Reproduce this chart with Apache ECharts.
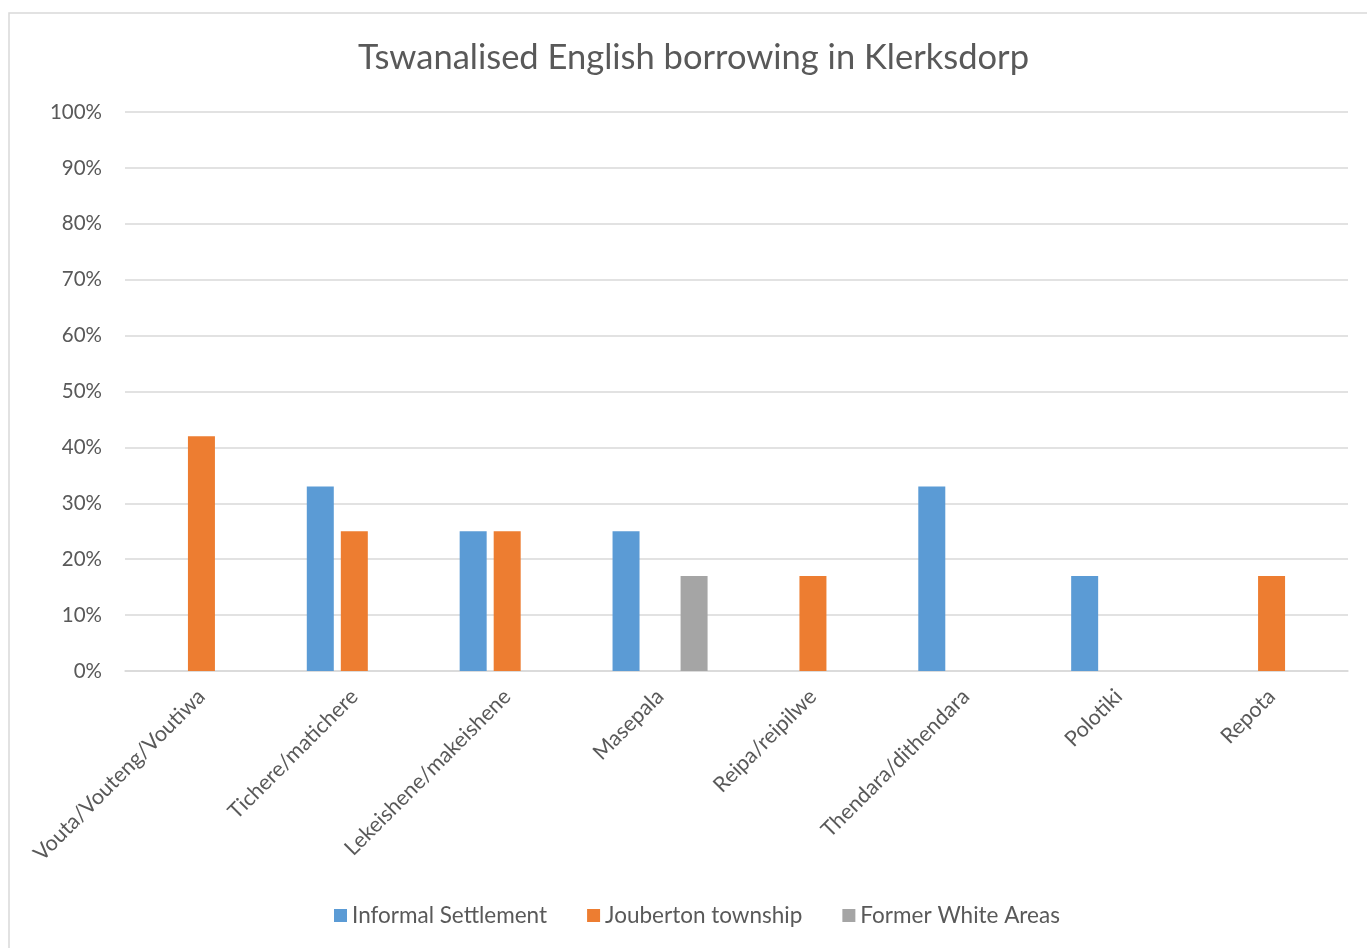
<!DOCTYPE html>
<html>
<head>
<meta charset="utf-8">
<script src="https://cdn.jsdelivr.net/npm/echarts@6/dist/echarts.min.js"></script>
<style>
  html, body { margin: 0; padding: 0; background: #fff; }
  #chart-box { width: 1367px; height: 948px; }
</style>
</head>
<body>
<div id="chart-box"></div>
<script>
// categories and values (percent)
const categories = ['Vouta/Vouteng/Voutiwa', 'Tichere/matichere', 'Lekeishene/makeishene', 'Masepala',
  'Reipa/reipilwe', 'Thendara/dithendara', 'Polotiki', 'Repota']
const informal = [0, 33, 25, 25, 0, 33, 17, 0]
const jouberton = [42, 25, 25, 0, 17, 0, 0, 17]
const formerWhite = [0, 0, 0, 17, 0, 0, 0, 0]
const seriesNames = ['Informal Settlement', 'Jouberton township', 'Former White Areas']
const colors = ['#5B9BD5', '#ED7D31', '#A5A5A5']

const font = 'Lato, "Open Sans", sans-serif'
const textColor = '#595959'

// zero values are drawn as no bar at all
const clean = (arr) => arr.map(v => (v === 0 ? '-' : v))

const options = {
  animation: false,
  color: colors,
  textStyle: { fontFamily: font },
  title: {
    text: 'Tswanalised English borrowing in Klerksdorp',
    left: 353,
    top: 35,
    textStyle: { fontFamily: font, fontSize: 34.5, fontWeight: 'normal', color: textColor }
  },
  graphic: [{
    type: 'rect',
    shape: { x: 9, y: 13, width: 1400, height: 1000 },
    style: { fill: 'none', stroke: '#d9d9d9', lineWidth: 1.5 },
    silent: true
  }],
  legend: {
    bottom: 16,
    left: 329,
    itemWidth: 13,
    itemHeight: 13,
    itemGap: 40,
    icon: 'rect',
    textStyle: { fontFamily: font, fontSize: 22.5, color: textColor },
    data: seriesNames
  },
  grid: { left: 125, right: 19, top: 112, bottom: 277, containLabel: false },
  xAxis: {
    type: 'category',
    data: categories,
    axisLine: { lineStyle: { color: '#d9d9d9', width: 1.5 } },
    axisTick: { show: false },
    axisLabel: {
      rotate: 45,
      interval: 0,
      margin: 22,
      fontFamily: font,
      fontSize: 21.5,
      color: textColor
    }
  },
  yAxis: {
    type: 'value',
    min: 0,
    max: 100,
    interval: 10,
    axisLine: { show: false },
    axisTick: { show: false },
    splitLine: { lineStyle: { color: '#d9d9d9', width: 1.5 } },
    axisLabel: {
      formatter: '{value}%',
      margin: 23,
      fontFamily: font,
      fontSize: 20.5,
      color: textColor
    }
  },
  series: [
    { name: seriesNames[0], type: 'bar', data: clean(informal), barWidth: 27, barGap: '26%' },
    { name: seriesNames[1], type: 'bar', data: clean(jouberton), barWidth: 27, barGap: '26%' },
    { name: seriesNames[2], type: 'bar', data: clean(formerWhite), barWidth: 27, barGap: '26%' }
  ]
}

const myChart = echarts.init(document.getElementById('chart-box'))
myChart.setOption(options)
</script>
</body>
</html>
